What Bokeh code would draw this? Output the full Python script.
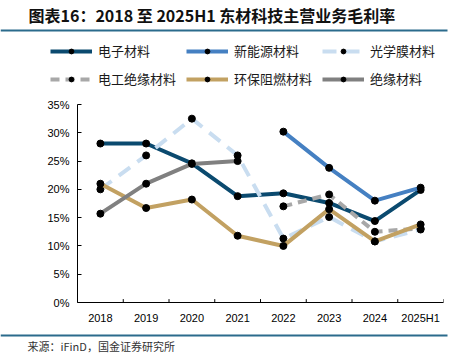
from bokeh.plotting import figure
from bokeh.layouts import column, row
from bokeh.models import (Legend, LegendItem, Label, BoxAnnotation, FixedTicker,
                          PrintfTickFormatter, Range1d)
from bokeh.embed import file_html
from bokeh.resources import INLINE

categories = ["2018", "2019", "2020", "2021", "2022", "2023", "2024", "2025H1"]
nan = float("nan")
electronic = [28.1, 28.1, 24.6, 18.8, 19.3, 17.6, 14.4, 19.9]
new_energy = [nan, nan, nan, nan, 30.2, 23.8, 18.0, 20.3]
optical_film = [20.0, 26.0, 32.5, 26.0, 11.3, 15.1, 10.8, 12.9]
elec_insul = [nan, nan, nan, nan, 17.0, 19.1, 12.5, 13.1]
flame_ret = [21.0, 16.7, 18.2, 11.8, 10.0, 16.5, 10.8, 13.8]
insulation = [15.7, 21.0, 24.5, 25.0, nan, nan, nan, nan]

series = [
    ("电子材料", electronic, "#0b4a6f", None),
    ("新能源材料", new_energy, "#4580c2", None),
    ("光学膜材料", optical_film, "#c9ddf0", "14 9"),
    ("电工绝缘材料", elec_insul, "#a8a8a8", "9 6"),
    ("环保阻燃材料", flame_ret, "#c2a162", None),
    ("绝缘材料", insulation, "#808080", None),
]

W = 462
HEAD_H, MAIN_H, FOOT_H = 97, 233, 24
RULE_COLOR = "#2b6b8c"

# ---------- header: title, rule, legend ----------
hd = figure(width=W, height=HEAD_H, output_backend="svg", toolbar_location=None,
            x_range=Range1d(0, W), y_range=Range1d(HEAD_H, 0),
            x_axis_location=None, y_axis_location=None, min_border=0)
hd.outline_line_color = None
hd.grid.grid_line_color = None
hd.add_layout(Label(x=28, y=14, text="图表16：2018 至 2025H1 东材科技主营业务毛利率",
                    text_font="Noto Sans CJK SC", text_font_size="16px",
                    text_font_style="bold", text_baseline="middle", text_color="#111111"))
hd.add_layout(BoxAnnotation(left=0, right=447, top=29, bottom=31,
                            fill_color=RULE_COLOR, fill_alpha=1, line_alpha=0))
items = []
for name, vals, color, dash in series:
    kw = {"line_dash": dash} if dash else {}
    lr = hd.line(x=[nan], y=[nan], line_color=color, line_width=4, **kw)
    sr = hd.scatter(x=[nan], y=[nan], size=5, fill_color="black", line_color="black")
    items.append(LegendItem(label=name, renderers=[lr, sr]))
# legend fills column by column: reorder so rows read as in the series list
ncols = 3
ordered = [items[r * ncols + c] for c in range(ncols) for r in range(len(items) // ncols)]
legend = Legend(items=ordered, ncols=ncols, location=(50, 9),
                glyph_width=42, glyph_height=12, label_standoff=6, label_width=79,
                spacing=9, padding=0, margin=0,
                label_text_font="Noto Sans CJK SC", label_text_font_size="13px",
                label_text_color="#1a1a1a",
                border_line_color=None, background_fill_alpha=0)
hd.add_layout(legend)

# ---------- main chart ----------
L, R, T, B = 77, 19, 7, 28
p = figure(width=W, height=MAIN_H, output_backend="svg", toolbar_location=None,
           x_range=Range1d(-0.5, len(categories) - 0.5), y_range=Range1d(0, 35),
           min_border_left=L, min_border_right=R, min_border_top=T, min_border_bottom=B)
p.outline_line_color = None
p.grid.grid_line_color = None

xs = list(range(len(categories)))
for name, vals, color, dash in series:
    kw = {"line_dash": dash} if dash else {}
    p.line(xs, vals, line_color=color, line_width=4, **kw)
    p.scatter(xs, vals, size=7, fill_color="black", line_color="black")

p.xaxis.ticker = FixedTicker(ticks=xs)
p.xaxis.major_label_overrides = {i: c for i, c in enumerate(categories)}
p.xaxis.major_tick_in = 0
p.xaxis.major_tick_out = 0
p.xaxis.minor_tick_line_color = None
p.xaxis.axis_line_color = "black"
p.xaxis.major_label_text_font = "Liberation Sans"
p.xaxis.major_label_text_font_size = "11px"
p.xaxis.major_label_text_color = "#000000"
p.xaxis.major_label_standoff = 9
bounds = [i - 0.5 for i in range(len(categories) + 1)]
p.segment(x0=bounds, y0=[0] * len(bounds), x1=bounds, y1=[0.6] * len(bounds),
          line_color="black", line_width=1)

p.yaxis.ticker = FixedTicker(ticks=[0, 5, 10, 15, 20, 25, 30, 35])
p.yaxis.formatter = PrintfTickFormatter(format="%d%%")
p.yaxis.major_tick_in = 4
p.yaxis.major_tick_out = 0
p.yaxis.minor_tick_line_color = None
p.yaxis.axis_line_color = "black"
p.yaxis.major_label_text_font = "Liberation Sans"
p.yaxis.major_label_text_font_size = "11px"
p.yaxis.major_label_text_color = "#000000"
p.yaxis.major_label_standoff = 8

# ---------- footer ----------
ft = figure(width=W, height=FOOT_H, output_backend="svg", toolbar_location=None,
            x_range=Range1d(0, W), y_range=Range1d(FOOT_H, 0),
            x_axis_location=None, y_axis_location=None, min_border=0)
ft.outline_line_color = None
ft.grid.grid_line_color = None
ft.add_layout(BoxAnnotation(left=0, right=447, top=4, bottom=6,
                            fill_color=RULE_COLOR, fill_alpha=1, line_alpha=0))
ft.add_layout(Label(x=27, y=15, text="来源：iFinD，国金证券研究所",
                    text_font="Noto Sans CJK SC", text_font_size="11px",
                    text_baseline="middle", text_color="#333333"))

layout = column(row(hd), row(p), row(ft), spacing=0)
open("out.html", "w").write(file_html(layout, INLINE))
